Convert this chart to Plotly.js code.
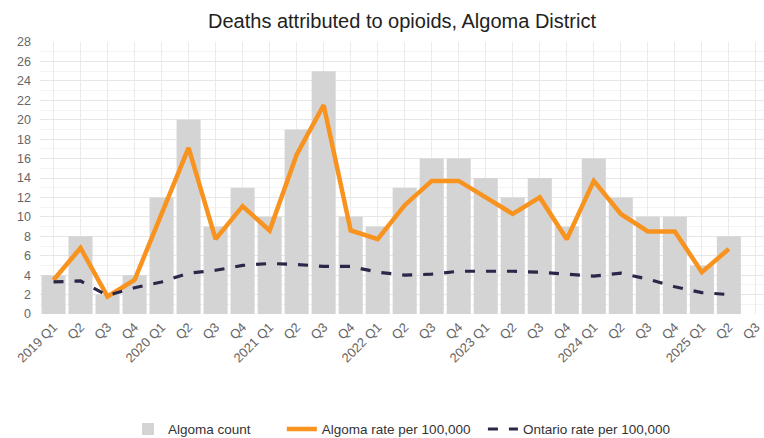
<!DOCTYPE html>
<html>
<head>
<meta charset="utf-8">
<script src="https://cdn.plot.ly/plotly-3.0.1.min.js"></script>
<style>
  html, body { margin: 0; padding: 0; background: #ffffff; }
  #chart { width: 764px; height: 438px; }
</style>
</head>
<body>
<div id="chart"></div>
<script>
// Quarters on the x axis (unique keys) and the labels shown under them
const quarters = [
  "2019 Q1","2019 Q2","2019 Q3","2019 Q4",
  "2020 Q1","2020 Q2","2020 Q3","2020 Q4",
  "2021 Q1","2021 Q2","2021 Q3","2021 Q4",
  "2022 Q1","2022 Q2","2022 Q3","2022 Q4",
  "2023 Q1","2023 Q2","2023 Q3","2023 Q4",
  "2024 Q1","2024 Q2","2024 Q3","2024 Q4",
  "2025 Q1","2025 Q2","2025 Q3"
];
const tickLabels = [
  "2019 Q1","Q2","Q3","Q4",
  "2020 Q1","Q2","Q3","Q4",
  "2021 Q1","Q2","Q3","Q4",
  "2022 Q1","Q2","Q3","Q4",
  "2023 Q1","Q2","Q3","Q4",
  "2024 Q1","Q2","Q3","Q4",
  "2025 Q1","Q2","Q3"
];

// Quarterly opioid deaths in Algoma (count)
const algomaCount = [4,8,2,4,12,20,9,13,10,19,25,10,9,13,16,16,14,12,14,9,16,12,10,10,5,8];
// Rates per 100,000
const algomaRate = [3.5,6.8,1.8,3.5,10.3,17.1,7.7,11.1,8.6,16.4,21.5,8.6,7.7,11.2,13.7,13.7,12.0,10.3,12.0,7.7,13.7,10.3,8.5,8.5,4.3,6.7];
const ontarioRate = [3.3,3.4,1.9,2.7,3.3,4.2,4.5,5.0,5.2,5.1,4.9,4.9,4.3,4.0,4.1,4.4,4.4,4.4,4.3,4.1,3.9,4.2,3.6,2.8,2.2,2.0];

// Series names; trailing non-breaking spaces widen the legend spacing
const seriesNames = [
  "Algoma count\u00a0\u00a0\u00a0\u00a0\u00a0\u00a0\u00a0",
  "Algoma rate per 100,000\u00a0\u00a0",
  "Ontario rate per 100,000"
];

const font = "Liberation Sans, Arial, Helvetica, sans-serif";

const traces = [
  {
    type: "bar",
    name: seriesNames[0],
    x: quarters.slice(0, algomaCount.length),
    y: algomaCount,
    marker: { color: "#d4d4d4" }
  },
  {
    type: "scatter",
    mode: "lines",
    name: seriesNames[1],
    x: quarters.slice(0, algomaRate.length),
    y: algomaRate,
    line: { color: "#f7931e", width: 4.5 }
  },
  {
    type: "scatter",
    mode: "lines",
    name: seriesNames[2],
    x: quarters.slice(0, ontarioRate.length),
    y: ontarioRate,
    line: { color: "#2b2748", width: 3.2, dash: "10px,11px" }
  }
];

const layout = {
  width: 764,
  height: 438,
  margin: { l: 40, r: 0, t: 42, b: 124 },
  paper_bgcolor: "#ffffff",
  plot_bgcolor: "#ffffff",
  font: { family: font, color: "#555555" },
  title: {
    text: "Deaths attributed to opioids, Algoma District",
    font: { family: font, size: 20, color: "#222222" },
    x: 0.5, xref: "paper", xanchor: "center",
    y: 0.953, yref: "container", yanchor: "middle"
  },
  bargap: 0.11,
  showlegend: true,
  legend: {
    orientation: "h",
    x: 0.5, xref: "paper", xanchor: "center",
    y: 0.02, yref: "container", yanchor: "middle",
    font: { family: font, size: 13.5, color: "#333333" },
    itemwidth: 30,
    traceorder: "normal"
  },
  xaxis: {
    type: "category",
    categoryorder: "array",
    categoryarray: quarters,
    tickmode: "array",
    tickvals: quarters,
    ticktext: tickLabels,
    tickangle: -45,
    range: [-0.5, 26.3],
    showgrid: true,
    gridcolor: "#ebebeb",
    gridwidth: 1,
    zeroline: false,
    showline: false,
    ticks: "",
    ticklabelstandoff: 2,
    tickfont: { family: font, size: 13, color: "#666666" },
    fixedrange: true
  },
  yaxis: {
    range: [0, 28],
    tickmode: "linear",
    tick0: 0,
    dtick: 2,
    showgrid: true,
    gridcolor: "#e6e6e6",
    gridwidth: 1,
    minor: { dtick: 1, showgrid: true, gridcolor: "#f3f3f3", gridwidth: 1 },
    zeroline: false,
    showline: false,
    ticks: "",
    ticklabelstandoff: 8,
    tickfont: { family: font, size: 12.5, color: "#666666" },
    fixedrange: true
  }
};

Plotly.newPlot("chart", traces, layout, { displayModeBar: false, staticPlot: true });
</script>
</body>
</html>
